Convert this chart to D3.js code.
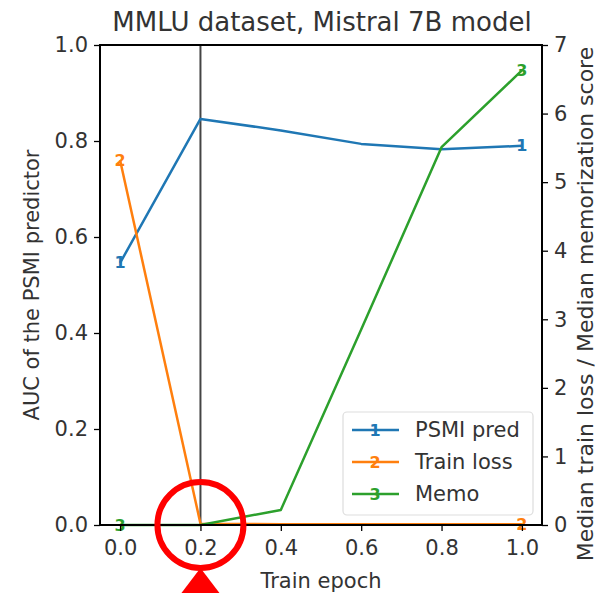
<!DOCTYPE html>
<html>
<head>
<meta charset="utf-8">
<script src="https://cdn.jsdelivr.net/npm/d3@7"></script>
<style>
  body { margin: 0; background: #fff; }
  text { font-family: "DejaVu Sans", sans-serif; }
</style>
</head>
<body>
<svg width="600" height="593"></svg>
<script>
// data
const epochs = [0.0, 0.2, 0.4, 0.6, 0.8, 1.0];
const psmiAuc = [0.546, 0.846, 0.822, 0.794, 0.783, 0.79];
const trainLoss = [5.32, 0.02, 0.01, 0.01, 0.01, 0.01];
const memoScore = [0.0, 0.0, 0.22, 2.85, 5.51, 6.63];
const xTicks = [0.0, 0.2, 0.4, 0.6, 0.8, 1.0];
const leftTicks = [0.0, 0.2, 0.4, 0.6, 0.8, 1.0];
const rightTicks = [0, 1, 2, 3, 4, 5, 6, 7];
const highlightEpoch = 0.2;

const series = [
  {name: "PSMI pred", vals: psmiAuc, axis: "left", color: "#1f77b4", mark: "1"},
  {name: "Train loss", vals: trainLoss, axis: "right", color: "#ff7f0e", mark: "2"},
  {name: "Memo", vals: memoScore, axis: "right", color: "#2ca02c", mark: "3"}
];

const svg = d3.select("svg");
const plotL = 100, plotR = 542, plotT = 45, plotB = 525;

const x = d3.scaleLinear().domain([-0.05, 1.05]).range([plotL, plotR]);
const yL = d3.scaleLinear().domain([0, 1]).range([plotB, plotT]);
const yR = d3.scaleLinear().domain([0, 7]).range([plotB, plotT]);

const fontSize = 21;
const tickColor = "#333";

// vertical reference line
svg.append("line")
  .attr("x1", x(highlightEpoch)).attr("x2", x(highlightEpoch))
  .attr("y1", plotT).attr("y2", plotB)
  .attr("stroke", "#444").attr("stroke-width", 2);

// lines
series.forEach(s => {
  const yScale = s.axis == "left" ? yL : yR;
  const line = d3.line().x((d, i) => x(epochs[i])).y(d => yScale(d));
  svg.append("path")
    .datum(s.vals)
    .attr("fill", "none")
    .attr("stroke", s.color)
    .attr("stroke-width", 2.5)
    .attr("stroke-linejoin", "round")
    .attr("d", line);
  // markers only at the ends
  const ends = [0, s.vals.length - 1];
  svg.selectAll(null)
    .data(ends)
    .enter().append("text")
    .attr("x", i => x(epochs[i]))
    .attr("y", i => yScale(s.vals[i]))
    .attr("text-anchor", "middle")
    .attr("dominant-baseline", "central")
    .attr("font-size", 16)
    .attr("font-weight", "bold")
    .attr("fill", s.color)
    .text(s.mark);
});

// axes
const xAxis = svg.append("g")
  .attr("transform", `translate(0,${plotB})`)
  .call(d3.axisBottom(x).tickValues(xTicks).tickFormat(d3.format(".1f")).tickSize(6).tickPadding(9));
const lAxis = svg.append("g")
  .attr("transform", `translate(${plotL},0)`)
  .call(d3.axisLeft(yL).tickValues(leftTicks).tickFormat(d3.format(".1f")).tickSize(6).tickPadding(6));
const rAxis = svg.append("g")
  .attr("transform", `translate(${plotR},0)`)
  .call(d3.axisRight(yR).tickValues(rightTicks).tickFormat(d3.format("d")).tickSize(6).tickPadding(6));

[xAxis, lAxis, rAxis].forEach(a => {
  a.selectAll("path").remove();
  a.selectAll("line").attr("stroke", "#000").attr("stroke-width", 1.3);
  a.selectAll("text").attr("font-size", fontSize).attr("fill", tickColor)
    .attr("font-family", "DejaVu Sans, sans-serif");
});

// frame
svg.append("rect")
  .attr("x", plotL).attr("y", plotT)
  .attr("width", plotR - plotL).attr("height", plotB - plotT)
  .attr("fill", "none").attr("stroke", "#000").attr("stroke-width", 2);

// labels
svg.append("text")
  .attr("x", (plotL + plotR) / 2 + 1).attr("y", 31)
  .attr("text-anchor", "middle").attr("font-size", 26).attr("fill", tickColor)
  .text("MMLU dataset, Mistral 7B model");
svg.append("text")
  .attr("x", (plotL + plotR) / 2).attr("y", 588)
  .attr("text-anchor", "middle").attr("font-size", fontSize).attr("fill", tickColor)
  .text("Train epoch");
svg.append("text")
  .attr("transform", `translate(39,${(plotT + plotB) / 2}) rotate(-90)`)
  .attr("text-anchor", "middle").attr("font-size", fontSize).attr("fill", tickColor)
  .text("AUC of the PSMI predictor");
svg.append("text")
  .attr("transform", `translate(593,${(plotT + plotB) / 2 + 19}) rotate(-90)`)
  .attr("text-anchor", "middle").attr("font-size", 22).attr("fill", tickColor)
  .text("Median train loss / Median memorization score");

// legend
const lg = svg.append("g");
lg.append("rect")
  .attr("x", 343).attr("y", 412).attr("width", 190).attr("height", 103)
  .attr("rx", 4).attr("fill", "#fff").attr("fill-opacity", 0.8)
  .attr("stroke", "#ddd").attr("stroke-width", 1.2);
series.forEach((s, i) => {
  const yy = 430 + i * 32;
  lg.append("line").attr("x1", 352).attr("x2", 399).attr("y1", yy).attr("y2", yy)
    .attr("stroke", s.color).attr("stroke-width", 2.5);
  lg.append("text").attr("x", 375).attr("y", yy)
    .attr("text-anchor", "middle").attr("dominant-baseline", "central")
    .attr("font-size", 16).attr("font-weight", "bold").attr("fill", s.color)
    .text(s.mark);
  lg.append("text").attr("x", 415).attr("y", yy)
    .attr("dominant-baseline", "central").attr("font-size", fontSize).attr("fill", tickColor)
    .text(s.name);
});

// red highlight annotation
const cx = x(highlightEpoch), cy = yL(0);
svg.append("circle")
  .attr("cx", cx).attr("cy", cy).attr("r", 43)
  .attr("fill", "none").attr("stroke", "#ff0000").attr("stroke-width", 6);
svg.append("path")
  .attr("d", `M${cx},${cy + 43} L${cx - 19},${593} L${cx + 19},${593} Z`)
  .attr("fill", "#ff0000");
</script>
</body>
</html>
